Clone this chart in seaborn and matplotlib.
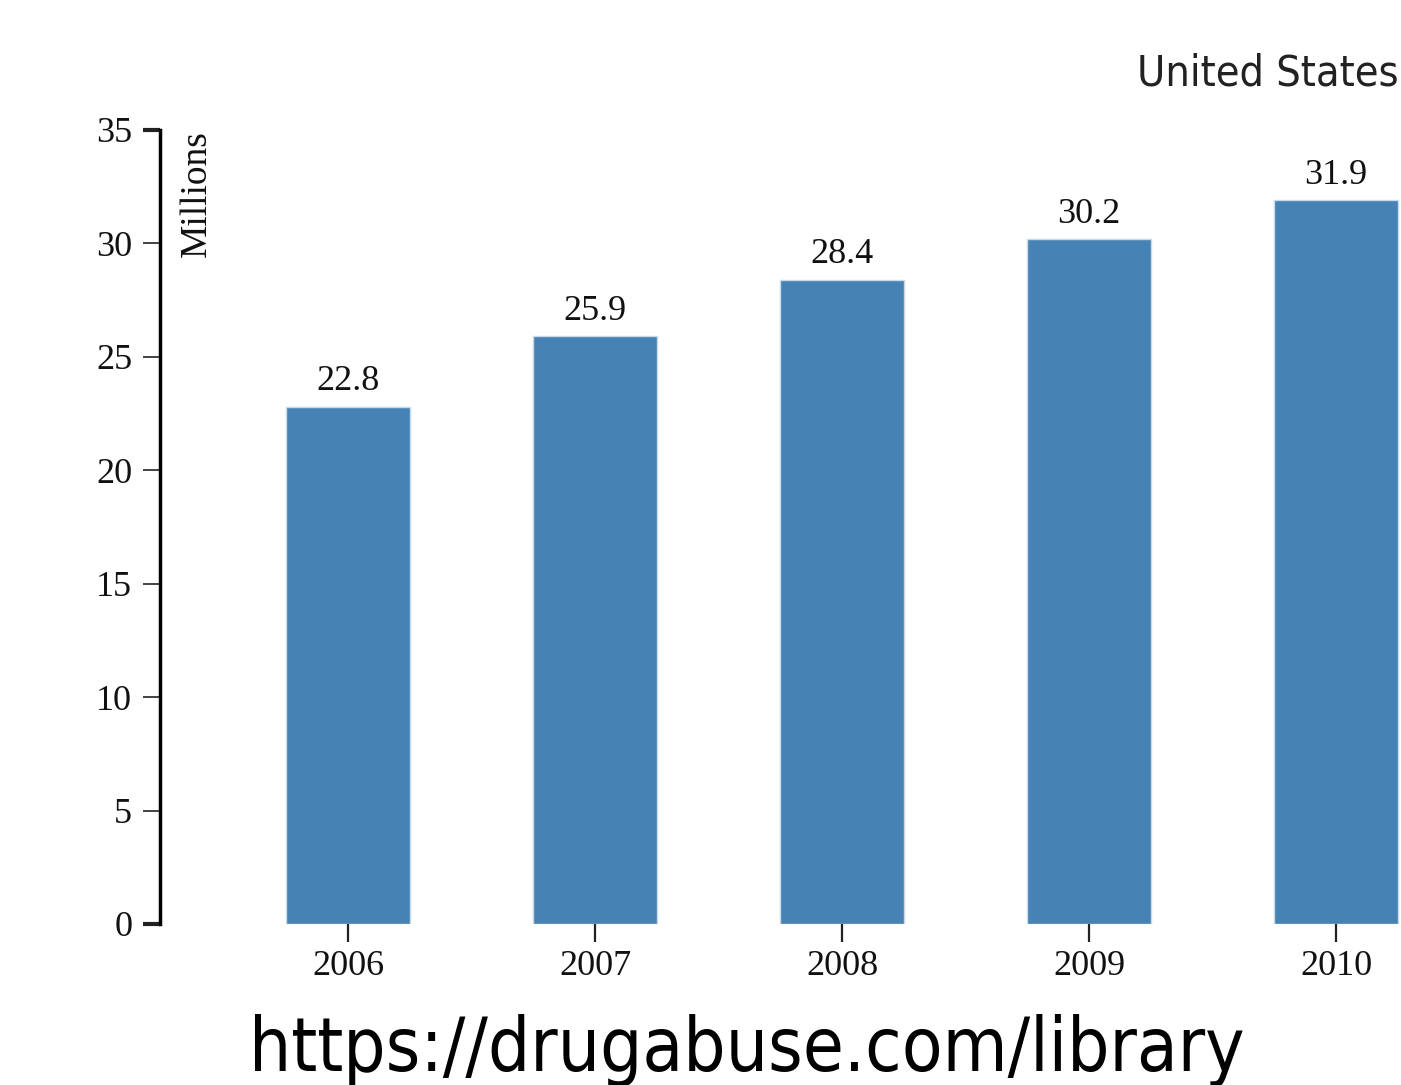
import numpy as np
import pandas as pd
import seaborn as sns
import matplotlib.pyplot as plt
from matplotlib import transforms

years = ['2006', '2007', '2008', '2009', '2010']
users = [22.8, 25.9, 28.4, 30.2, 31.9]
yticks = [0, 5, 10, 15, 20, 25, 30, 35]

df = pd.DataFrame({'Year': years, 'Millions': users})

sns.set_style('white')
plt.rcParams['font.family'] = ['Liberation Serif', 'DejaVu Serif']
plt.rcParams['text.color'] = '#111111'
plt.rcParams['xtick.labelcolor'] = '#111111'
plt.rcParams['ytick.labelcolor'] = '#111111'

fig = plt.figure(figsize=(14.01, 10.85), dpi=100)
# axes runs past the right edge of the figure, like the cropped original
ax = fig.add_axes([160 / 1401, 161 / 1085, 1241 / 1401, 794 / 1085])

sns.barplot(data=df, x='Year', y='Millions', color='#4682b4', saturation=1,
            width=0.5, edgecolor='#c9d9e8', linewidth=1, ax=ax)

ax.set_xlim(-0.761, 4.263)
ax.set_ylim(0, 35)
ax.set_yticks(yticks)
ax.set_xlabel('')
ax.set_ylabel('')

for side in ['top', 'right', 'bottom']:
    ax.spines[side].set_visible(False)
ax.spines['left'].set_linewidth(2.5)
ax.spines['left'].set_color('black')

ax.tick_params(axis='y', length=12, width=1.2, pad=8, labelsize=26,
               left=True, color='#222222')
ax.tick_params(axis='x', length=13, width=1.6, pad=6, labelsize=26,
               bottom=True, color='#222222')
# outer ticks drawn thicker like the domain path ends
ticks = ax.yaxis.get_major_ticks()
for t in (ticks[0], ticks[-1]):
    t.tick1line.set_markeredgewidth(3)
    t.tick1line.set_color('black')

for c in ax.containers:
    ax.bar_label(c, fmt='%.1f', padding=6, fontsize=26)

ax.text(0.016, 35, 'Millions', rotation=90, ha='left', va='top',
        fontsize=27, transform=transforms.blended_transform_factory(
            ax.transAxes, ax.transData))

fig.text(1399 / 1401, 1 - 85 / 1085, 'United States', fontsize=31,
         family='DejaVu Sans', stretch='condensed', color='#222222',
         va='baseline', ha='right')

fig.text(747 / 1401, 1 - 1071 / 1085, 'https://drugabuse.com/library',
         fontsize=53.5, family='DejaVu Sans', stretch='condensed',
         color='black', va='baseline', ha='center')

fig.savefig('out.png', dpi=100)
